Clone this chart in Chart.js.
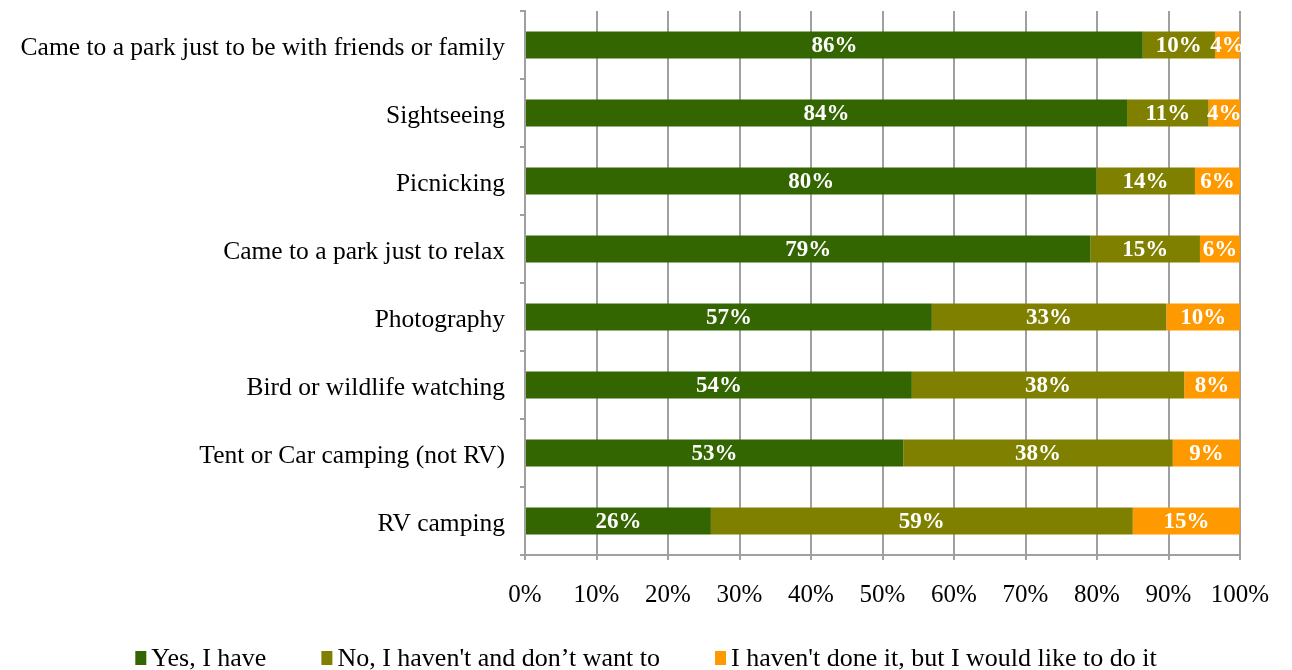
<!DOCTYPE html>
<html>
<head>
<meta charset="utf-8">
<script src="https://cdn.jsdelivr.net/npm/chart.js@4"></script>
<style>
html,body{margin:0;padding:0;background:#fff}
#wrap{width:1292px;height:670px;position:relative}
</style>
</head>
<body>
<div id="wrap"><canvas id="chart"></canvas></div>
<script>
// data (percent of respondents)
const categories=["Came to a park just to be with friends or family","Sightseeing","Picnicking","Came to a park just to relax","Photography","Bird or wildlife watching","Tent or Car camping (not RV)","RV camping"];
const yesHave=[86.4,84.2,79.9,79.1,56.9,54.1,52.9,26.0];
const noDontWant=[10.1,11.4,13.8,15.3,32.8,38.1,37.7,59.0];
const wouldLike=[3.5,4.4,6.3,5.6,10.3,7.8,9.4,15.0];
const seriesNames=["Yes, I have","No, I haven't and don\u2019t want to","I haven't done it, but I would like to do it"];
const xTickLabels=["0%","10%","20%","30%","40%","50%","60%","70%","80%","90%","100%"];

const colors=["#336600","#808000","#FF9900"];
const FONT="'Liberation Serif', 'Times New Roman', serif";

// white bold value labels in the middle of each segment
const valueLabels={
  id:'valueLabels',
  afterDatasetsDraw(chart){
    const ctx=chart.ctx;
    ctx.save();
    ctx.font="bold 23px "+FONT;
    ctx.fillStyle="#fff";
    ctx.textAlign="center"; ctx.textBaseline="middle";
    chart.data.datasets.forEach((ds,i)=>{
      chart.getDatasetMeta(i).data.forEach((bar,j)=>{
        ctx.fillText(Math.round(ds.data[j])+'%',(bar.x+bar.base)/2,bar.y+1);
      });
    });
    ctx.restore();
  }
};

// legend row under the axis
const bottomLegend={
  id:'bottomLegend',
  afterDraw(chart){
    const ctx=chart.ctx;
    ctx.save();
    ctx.font="26px "+FONT;
    ctx.textBaseline="middle";
    const box=11, gap=5, spacing=55, y=658;
    const widths=seriesNames.map(t=>box+gap+ctx.measureText(t).width);
    const total=widths.reduce((a,b)=>a+b,0)+spacing*(widths.length-1);
    let x=(chart.width-total)/2;
    seriesNames.forEach((t,i)=>{
      ctx.fillStyle=colors[i];
      ctx.fillRect(x,y-7,box,14);
      ctx.fillStyle="#000";
      ctx.fillText(t,x+box+gap,y+1);
      x+=widths[i]+spacing;
    });
    ctx.restore();
  }
};

new Chart(document.getElementById('chart'),{
  type:'bar',
  data:{
    labels:categories,
    datasets:[
      {label:seriesNames[0],data:yesHave,backgroundColor:colors[0]},
      {label:seriesNames[1],data:noDontWant,backgroundColor:colors[1]},
      {label:seriesNames[2],data:wouldLike,backgroundColor:colors[2]}
    ]
  },
  options:{
    indexAxis:'y',
    responsive:true,maintainAspectRatio:false,animation:false,
    datasets:{bar:{categoryPercentage:1,barPercentage:0.4}},
    layout:{padding:{left:0,right:52,top:11,bottom:60}},
    plugins:{legend:{display:false},tooltip:{enabled:false}},
    scales:{
      x:{
        stacked:true,min:0,max:100,
        afterFit:s=>{s.height=55;s.paddingLeft=0;s.paddingRight=0;},
        ticks:{stepSize:10,color:'#000',padding:20,maxRotation:0,font:{family:FONT,size:25},
          callback:(v,i)=>xTickLabels[i]},
        grid:{color:'#a0a0a0',lineWidth:2,tickLength:5},
        border:{color:'#a0a0a0',width:2}
      },
      y:{
        stacked:true,
        afterFit:s=>{s.width=525;s.paddingTop=0;s.paddingBottom=0;},
        ticks:{color:'#000',padding:15,labelOffset:3,font:{family:FONT,size:25.5}},
        grid:{drawOnChartArea:false,offset:true,color:'#a0a0a0',lineWidth:2,tickLength:5},
        border:{color:'#a0a0a0',width:2}
      }
    }
  },
  plugins:[valueLabels,bottomLegend]
});
</script>
</body>
</html>
